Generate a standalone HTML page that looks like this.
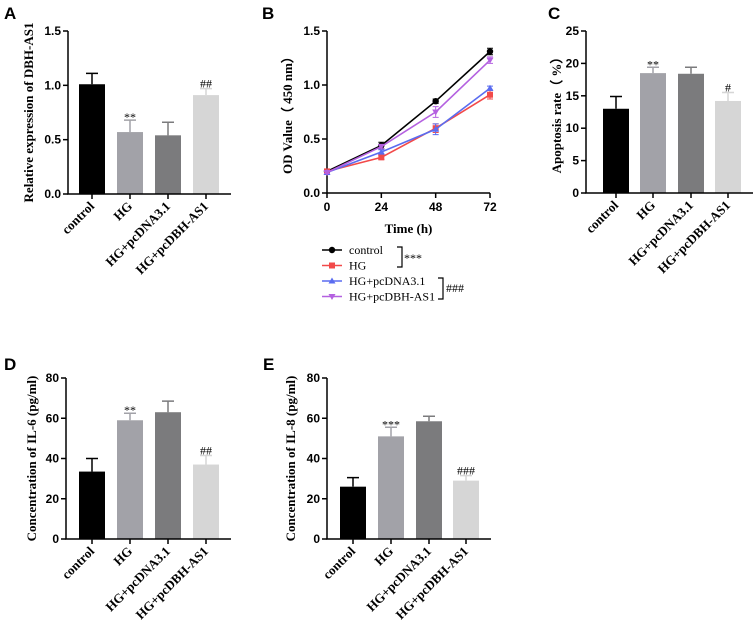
<!DOCTYPE html>
<html><head><meta charset="utf-8"><style>
body{margin:0;background:#fff}
svg{display:block}
.tk{font-family:"Liberation Sans",sans-serif;font-weight:bold;font-size:12px}
.tt{font-family:"Liberation Serif",serif;font-weight:bold;font-size:13px}
.lt{font-family:"Liberation Serif",serif;font-size:12px}
.pl{font-family:"Liberation Sans",sans-serif;font-weight:bold;font-size:17px}
</style></head><body>
<svg id="fig" width="755" height="623" viewBox="0 0 755 623"></svg>
<script>
const cats=["control","HG","HG+pcDNA3.1","HG+pcDBH-AS1"];
const barColors=["#000000","#a2a2a8","#7b7b7d","#d6d6d6"];
const aVals=[1.01,0.57,0.54,0.91];
const aErr=[0.10,0.11,0.12,0.06];
const aMarks=["","**","","##"];
const aTicks=[0,0.5,1.0,1.5];
const cVals=[13.0,18.5,18.4,14.2];
const cErr=[1.9,0.9,1.0,1.3];
const cMarks=["","**","","#"];
const cTicks=[0,5,10,15,20,25];
const dVals=[33.5,59,63,37];
const dErr=[6.5,3.5,5.5,4.5];
const dMarks=["","**","","##"];
const dTicks=[0,20,40,60,80];
const eVals=[26,51,58.5,29];
const eErr=[4.5,4.5,2.5,2.5];
const eMarks=["","***","","###"];
const eTicks=[0,20,40,60,80];
const bTimes=[0,24,48,72];
const bControl=[0.20,0.44,0.85,1.31];
const bHG=[0.20,0.33,0.60,0.91];
const bPcDNA=[0.19,0.38,0.59,0.97];
const bPcDBH=[0.19,0.43,0.75,1.23];
const bErrCtrl=[0.01,0.03,0.02,0.03];
const bErrHG=[0.01,0.02,0.04,0.04];
const bErrDNA=[0.01,0.02,0.05,0.02];
const bErrDBH=[0.01,0.02,0.05,0.03];
const bTicks=[0,0.5,1.0,1.5];
const bXTicks=["0","24","48","72"];

const svg=document.getElementById('fig');
const NS="http://www.w3.org/2000/svg";
function mk(tag,attrs,parent,text){const e=document.createElementNS(NS,tag);for(const k in attrs)e.setAttribute(k,attrs[k]);if(text!==undefined)e.textContent=text;(parent||svg).appendChild(e);return e;}

function barChart(o){
  const g=mk('g',{});
  
  
  const ys=v=>o.y0-(v-o.min)/(o.max-o.min)*(o.y0-o.y1);
  o.vals.forEach((v,i)=>{
    const x=o.barX[i];const w=26;const cx=x+w/2;
    const top=ys(v);const et=ys(v+o.err[i]);
    const eb=mk('path',{d:`M${cx} ${top} V${et} M${cx-6} ${et} H${cx+6}`,stroke:barColors[i],'stroke-width':1.5,fill:'none'},g);
    
    
    const r=mk('rect',{x:x,y:top,width:w,height:o.y0-top,fill:barColors[i]},g);
    
    
    if(o.marks[i]){const star=o.marks[i][0]=='*';
      const t=mk('text',{x:cx,y:et+(star?1:-1),'text-anchor':'middle',class:'lt','font-size':star?12:13},g,o.marks[i]);
      
      }
    mk('line',{x1:cx,x2:cx,y1:o.y0,y2:o.y0+5,stroke:'#000','stroke-width':1.5},g);
    const lb=mk('text',{x:cx+3,y:o.y0+13,'text-anchor':'end',class:'tt','font-size':12.5,transform:`rotate(-45 ${cx+3} ${o.y0+13})`},g,cats[i]);
    
    
  });
  mk('path',{d:`M${o.ax} ${o.y1} V${o.y0} H${o.axEnd}`,stroke:'#000','stroke-width':1.5,fill:'none'},g);
  o.ticks.forEach(t=>{const y=ys(t);mk('line',{x1:o.ax-5,x2:o.ax,y1:y,y2:y,stroke:'#000','stroke-width':1.5},g);
    const tl=mk('text',{x:o.ax-7,y:y+4,'text-anchor':'end',class:'tk'},g,o.fmt(t));
    
    });
  const yt=mk('text',{x:o.titleX,y:(o.y0+o.y1)/2,'text-anchor':'middle',class:'tt',transform:`rotate(-90 ${o.titleX} ${(o.y0+o.y1)/2})`},g,o.title);
  
  
  const pl=mk('text',{x:o.lx,y:o.ly,class:'pl'},g,o.letter);
  
  
}
barChart({name:'panel-a-chart',vals:aVals,err:aErr,marks:aMarks,ticks:aTicks,min:0,max:1.5,y0:194,y1:31,ax:68,axEnd:231,barX:[79,117,155,193],fmt:t=>t.toFixed(1),title:'Relative expression of DBH-AS1',titleX:33,letter:'A',lx:4,ly:19});
barChart({name:'panel-c-chart',vals:cVals,err:cErr,marks:cMarks,ticks:cTicks,min:0,max:25,y0:193,y1:31,ax:586,axEnd:753,barX:[603,640,678,715],fmt:t=>String(t),title:'Apoptosis rate（ %）',titleX:561,letter:'C',lx:548,ly:19});
barChart({name:'panel-d-chart',vals:dVals,err:dErr,marks:dMarks,ticks:dTicks,min:0,max:80,y0:539,y1:378,ax:66,axEnd:231,barX:[79,117,155,193],fmt:t=>String(t),title:'Concentration of IL-6 (pg/ml)',titleX:36,letter:'D',lx:4,ly:370});
barChart({name:'panel-e-chart',vals:eVals,err:eErr,marks:eMarks,ticks:eTicks,min:0,max:80,y0:539,y1:378,ax:327,axEnd:491,barX:[340,378,416,453],fmt:t=>String(t),title:'Concentration of IL-8 (pg/ml)',titleX:295,letter:'E',lx:263,ly:370});

(function(){
  const g=mk('g',{});
  
  
  const x0=327,x1=490,y0=193,y1=31;
  const xs=t=>x0+(t-0)/72*(x1-x0);
  const ys=v=>y0-v/1.5*(y0-y1);
  mk('path',{d:`M${x0} ${y1} V${y0} H${x1}`,stroke:'#000','stroke-width':1.5,fill:'none'},g);
  bTicks.forEach(t=>{const y=ys(t);mk('line',{x1:x0-5,x2:x0,y1:y,y2:y,stroke:'#000','stroke-width':1.5},g);
    const tl=mk('text',{x:x0-7,y:y+4,'text-anchor':'end',class:'tk'},g,t.toFixed(1));
    
    });
  bTimes.forEach((t,i)=>{const x=xs(t);mk('line',{x1:x,x2:x,y1:y0,y2:y0+5,stroke:'#000','stroke-width':1.5},g);
    const tl=mk('text',{x:x,y:y0+18,'text-anchor':'middle',class:'tk'},g,bXTicks[i]);
    
    });
  const xt=mk('text',{x:(x0+x1)/2,y:233,'text-anchor':'middle',class:'tt'},g,'Time (h)');
  
  
  const yt=mk('text',{x:292,y:112,'text-anchor':'middle',class:'tt',transform:'rotate(-90 292 112)'},g,'OD Value（ 450 nm）');
  
  
  const pl=mk('text',{x:262,y:19,class:'pl'},g,'B');
  
  
  const series=[
    {n:'control',v:bControl,e:bErrCtrl,c:'#000000',m:'circle'},
    {n:'HG',v:bHG,e:bErrHG,c:'#f24a4a',m:'square'},
    {n:'HG+pcDNA3.1',v:bPcDNA,e:bErrDNA,c:'#5a6cf0',m:'tri'},
    {n:'HG+pcDBH-AS1',v:bPcDBH,e:bErrDBH,c:'#b461e0',m:'tridown'}];
  function marker(m,x,y,c,par){
    if(m=='circle')return mk('circle',{cx:x,cy:y,r:3.2,fill:c},par);
    if(m=='square')return mk('rect',{x:x-3,y:y-3,width:6,height:6,fill:c},par);
    if(m=='tri')return mk('path',{d:`M${x} ${y-3.5} L${x+3.5} ${y+2.5} L${x-3.5} ${y+2.5}Z`,fill:c},par);
    return mk('path',{d:`M${x} ${y+3.5} L${x+3.5} ${y-2.5} L${x-3.5} ${y-2.5}Z`,fill:c},par);
  }
  series.forEach((s,si)=>{
    const sg=mk('g',{},g);
    
    
    const pts=bTimes.map((t,i)=>xs(t)+','+ys(s.v[i])).join(' ');
    mk('polyline',{points:pts,fill:'none',stroke:s.c,'stroke-width':1.6},sg);
    bTimes.forEach((t,i)=>{const x=xs(t);const a=ys(s.v[i]+s.e[i]),b=ys(s.v[i]-s.e[i]);
      mk('path',{d:`M${x} ${a} V${b} M${x-3} ${a} H${x+3} M${x-3} ${b} H${x+3}`,stroke:s.c,'stroke-width':1,fill:'none'},sg);
      const mm=marker(s.m,x,ys(s.v[i]),s.c,sg);
      
      });
    const ly=250+si*15.5;
    const le=mk('g',{},g);
    
    
    mk('line',{x1:322,x2:342,y1:ly,y2:ly,stroke:s.c,'stroke-width':1.6},le);
    marker(s.m,332,ly,s.c,le);
    mk('text',{x:349,y:ly+4,class:'lt'},le,s.n);
  });
  mk('path',{d:'M397 247 H402 V267 H397',stroke:'#000','stroke-width':1.2,fill:'none'},g);
  mk('text',{x:404,y:262,class:'lt'},g,'***');
  mk('path',{d:'M438 278 H443 V299 H438',stroke:'#000','stroke-width':1.2,fill:'none'},g);
  mk('text',{x:446,y:292,class:'lt'},g,'###');
})();
</script>
</body></html>
